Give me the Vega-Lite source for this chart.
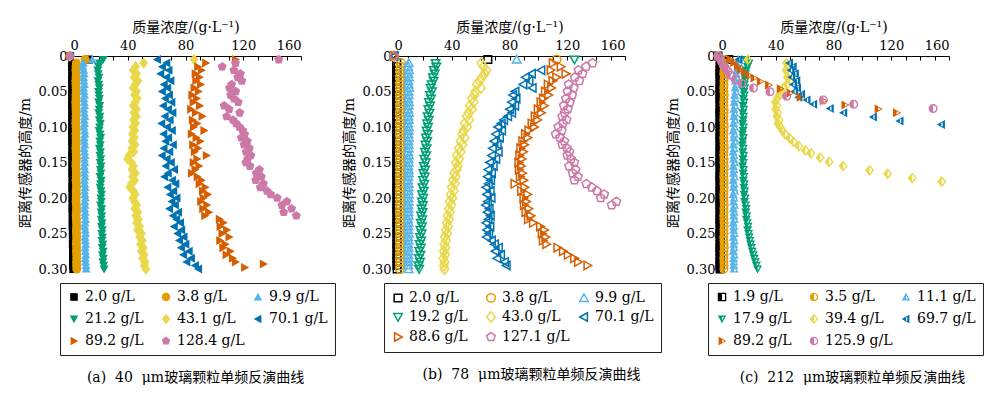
{
"$schema": "https://vega.github.io/schema/vega-lite/v6.json",
"padding": {"left": 18, "top": 20, "right": 5, "bottom": 5},
"bounds": "flush",
"spacing": 93,
"config": {
  "view": {"stroke": null},
  "axis": {"grid": false, "domainColor": "#000", "tickColor": "#000", "labelColor": "#000", "titleColor": "#000", "labelFont": "DejaVu Serif", "labelFontSize": 13, "titleFont": "DejaVu Serif, Noto Sans CJK SC", "titleFontSize": 14, "titleFontWeight": "normal", "tickSize": -4, "domainWidth": 1, "tickWidth": 1},
  "legend": {"columns": 3, "direction": "horizontal", "gridAlign": "all", "strokeColor": "#222", "padding": 7, "rowPadding": 8, "columnPadding": 6, "labelFont": "DejaVu Serif", "labelFontSize": 14, "labelColor": "#000", "symbolSize": 72, "labelOffset": 4},
  "title": {"font": "DejaVu Serif, Noto Sans CJK SC", "fontSize": 14, "fontWeight": "normal", "color": "#000"}
},
"datasets": {
"a": [
{"s":0,"y":0,"x":0},{"s":0,"y":0.005,"x":13},{"s":0,"y":0.01,"x":1.6},{"s":0,"y":0.015,"x":1.5},{"s":0,"y":0.02,"x":1.6},{"s":0,"y":0.025,"x":1.7},{"s":0,"y":0.03,"x":1.6},{"s":0,"y":0.035,"x":1.5},{"s":0,"y":0.04,"x":1.6},{"s":0,"y":0.045,"x":1.7},{"s":0,"y":0.05,"x":1.6},{"s":0,"y":0.055,"x":1.6},{"s":0,"y":0.06,"x":1.7},{"s":0,"y":0.065,"x":1.6},{"s":0,"y":0.07,"x":1.5},{"s":0,"y":0.075,"x":1.6},{"s":0,"y":0.08,"x":1.7},{"s":0,"y":0.085,"x":1.6},{"s":0,"y":0.09,"x":1.6},{"s":0,"y":0.095,"x":1.7},{"s":0,"y":0.1,"x":1.6},{"s":0,"y":0.105,"x":1.5},{"s":0,"y":0.11,"x":1.6},{"s":0,"y":0.115,"x":1.7},{"s":0,"y":0.12,"x":1.6},{"s":0,"y":0.125,"x":1.7},{"s":0,"y":0.13,"x":1.8},{"s":0,"y":0.135,"x":1.7},{"s":0,"y":0.14,"x":1.6},{"s":0,"y":0.145,"x":1.7},{"s":0,"y":0.15,"x":1.8},{"s":0,"y":0.155,"x":1.7},{"s":0,"y":0.16,"x":1.8},{"s":0,"y":0.165,"x":1.7},{"s":0,"y":0.17,"x":1.8},{"s":0,"y":0.175,"x":1.9},{"s":0,"y":0.18,"x":1.8},{"s":0,"y":0.185,"x":1.7},{"s":0,"y":0.19,"x":1.8},{"s":0,"y":0.195,"x":1.9},{"s":0,"y":0.2,"x":1.8},{"s":0,"y":0.205,"x":1.9},{"s":0,"y":0.21,"x":1.9},{"s":0,"y":0.215,"x":1.8},{"s":0,"y":0.22,"x":1.9},{"s":0,"y":0.225,"x":2.0},{"s":0,"y":0.23,"x":1.9},{"s":0,"y":0.235,"x":2.0},{"s":0,"y":0.24,"x":1.9},{"s":0,"y":0.245,"x":2.0},{"s":0,"y":0.25,"x":2.1},{"s":0,"y":0.255,"x":2.0},{"s":0,"y":0.26,"x":2.1},{"s":0,"y":0.265,"x":2.0},{"s":0,"y":0.27,"x":2.1},{"s":0,"y":0.275,"x":2.2},{"s":0,"y":0.28,"x":2.1},{"s":0,"y":0.285,"x":2.2},{"s":0,"y":0.29,"x":2.1},{"s":0,"y":0.295,"x":2.2},{"s":0,"y":0.3,"x":2.3},
{"s":1,"y":0,"x":0},{"s":1,"y":0.005,"x":10.5},{"s":1,"y":0.01,"x":4.4},{"s":1,"y":0.015,"x":4.2},{"s":1,"y":0.02,"x":4.1},{"s":1,"y":0.025,"x":4.3},{"s":1,"y":0.03,"x":4.2},{"s":1,"y":0.035,"x":4.0},{"s":1,"y":0.04,"x":4.1},{"s":1,"y":0.045,"x":4.2},{"s":1,"y":0.05,"x":4.3},{"s":1,"y":0.055,"x":4.1},{"s":1,"y":0.06,"x":4.2},{"s":1,"y":0.065,"x":4.0},{"s":1,"y":0.07,"x":4.1},{"s":1,"y":0.075,"x":4.2},{"s":1,"y":0.08,"x":4.3},{"s":1,"y":0.085,"x":4.2},{"s":1,"y":0.09,"x":4.1},{"s":1,"y":0.095,"x":4.0},{"s":1,"y":0.1,"x":4.2},{"s":1,"y":0.105,"x":4.3},{"s":1,"y":0.11,"x":4.1},{"s":1,"y":0.115,"x":4.2},{"s":1,"y":0.12,"x":4.3},{"s":1,"y":0.125,"x":4.2},{"s":1,"y":0.13,"x":4.1},{"s":1,"y":0.135,"x":4.2},{"s":1,"y":0.14,"x":4.3},{"s":1,"y":0.145,"x":4.4},{"s":1,"y":0.15,"x":4.2},{"s":1,"y":0.155,"x":4.1},{"s":1,"y":0.16,"x":4.3},{"s":1,"y":0.165,"x":4.4},{"s":1,"y":0.17,"x":4.3},{"s":1,"y":0.175,"x":4.2},{"s":1,"y":0.18,"x":4.4},{"s":1,"y":0.185,"x":4.5},{"s":1,"y":0.19,"x":4.3},{"s":1,"y":0.195,"x":4.4},{"s":1,"y":0.2,"x":4.3},{"s":1,"y":0.205,"x":4.2},{"s":1,"y":0.21,"x":4.4},{"s":1,"y":0.215,"x":4.5},{"s":1,"y":0.22,"x":4.4},{"s":1,"y":0.225,"x":4.3},{"s":1,"y":0.23,"x":4.4},{"s":1,"y":0.235,"x":4.5},{"s":1,"y":0.24,"x":4.6},{"s":1,"y":0.245,"x":4.4},{"s":1,"y":0.25,"x":4.5},{"s":1,"y":0.255,"x":4.6},{"s":1,"y":0.26,"x":4.5},{"s":1,"y":0.265,"x":4.4},{"s":1,"y":0.27,"x":4.6},{"s":1,"y":0.275,"x":4.5},{"s":1,"y":0.28,"x":4.6},{"s":1,"y":0.285,"x":4.7},{"s":1,"y":0.29,"x":4.5},{"s":1,"y":0.295,"x":4.6},{"s":1,"y":0.3,"x":4.7},
{"s":2,"y":0,"x":0},{"s":2,"y":0.005,"x":15.5},{"s":2,"y":0.01,"x":9.2},{"s":2,"y":0.015,"x":9.0},{"s":2,"y":0.02,"x":9.5},{"s":2,"y":0.025,"x":9.8},{"s":2,"y":0.03,"x":9.4},{"s":2,"y":0.035,"x":9.6},{"s":2,"y":0.04,"x":9.9},{"s":2,"y":0.045,"x":9.5},{"s":2,"y":0.05,"x":9.7},{"s":2,"y":0.055,"x":10.0},{"s":2,"y":0.06,"x":9.6},{"s":2,"y":0.065,"x":9.8},{"s":2,"y":0.07,"x":10.1},{"s":2,"y":0.075,"x":9.7},{"s":2,"y":0.08,"x":9.9},{"s":2,"y":0.085,"x":10.2},{"s":2,"y":0.09,"x":9.8},{"s":2,"y":0.095,"x":10.0},{"s":2,"y":0.1,"x":9.7},{"s":2,"y":0.105,"x":10.1},{"s":2,"y":0.11,"x":10.3},{"s":2,"y":0.115,"x":9.9},{"s":2,"y":0.12,"x":10.0},{"s":2,"y":0.125,"x":10.2},{"s":2,"y":0.13,"x":9.8},{"s":2,"y":0.135,"x":10.1},{"s":2,"y":0.14,"x":10.4},{"s":2,"y":0.145,"x":10.0},{"s":2,"y":0.15,"x":10.2},{"s":2,"y":0.155,"x":9.9},{"s":2,"y":0.16,"x":10.3},{"s":2,"y":0.165,"x":10.1},{"s":2,"y":0.17,"x":10.4},{"s":2,"y":0.175,"x":10.0},{"s":2,"y":0.18,"x":10.2},{"s":2,"y":0.185,"x":10.5},{"s":2,"y":0.19,"x":10.1},{"s":2,"y":0.195,"x":10.3},{"s":2,"y":0.2,"x":10.6},{"s":2,"y":0.205,"x":10.2},{"s":2,"y":0.21,"x":10.4},{"s":2,"y":0.215,"x":10.1},{"s":2,"y":0.22,"x":10.5},{"s":2,"y":0.225,"x":10.3},{"s":2,"y":0.23,"x":10.7},{"s":2,"y":0.235,"x":10.4},{"s":2,"y":0.24,"x":10.2},{"s":2,"y":0.245,"x":10.6},{"s":2,"y":0.25,"x":10.8},{"s":2,"y":0.255,"x":10.4},{"s":2,"y":0.26,"x":10.6},{"s":2,"y":0.265,"x":10.9},{"s":2,"y":0.27,"x":10.5},{"s":2,"y":0.275,"x":10.7},{"s":2,"y":0.28,"x":11.0},{"s":2,"y":0.285,"x":10.6},{"s":2,"y":0.29,"x":10.8},{"s":2,"y":0.295,"x":11.1},{"s":2,"y":0.3,"x":11.2},
{"s":3,"y":0,"x":0},{"s":3,"y":0.005,"x":23.0},{"s":3,"y":0.01,"x":20.5},{"s":3,"y":0.015,"x":19.8},{"s":3,"y":0.02,"x":19.2},{"s":3,"y":0.025,"x":19.6},{"s":3,"y":0.03,"x":20.1},{"s":3,"y":0.035,"x":19.4},{"s":3,"y":0.04,"x":19.9},{"s":3,"y":0.045,"x":20.3},{"s":3,"y":0.05,"x":19.7},{"s":3,"y":0.055,"x":20.0},{"s":3,"y":0.06,"x":20.4},{"s":3,"y":0.065,"x":19.8},{"s":3,"y":0.07,"x":20.6},{"s":3,"y":0.075,"x":20.2},{"s":3,"y":0.08,"x":19.9},{"s":3,"y":0.085,"x":20.7},{"s":3,"y":0.09,"x":20.3},{"s":3,"y":0.095,"x":21.0},{"s":3,"y":0.1,"x":20.5},{"s":3,"y":0.105,"x":20.1},{"s":3,"y":0.11,"x":20.8},{"s":3,"y":0.115,"x":21.2},{"s":3,"y":0.12,"x":20.6},{"s":3,"y":0.125,"x":21.0},{"s":3,"y":0.13,"x":20.4},{"s":3,"y":0.135,"x":21.1},{"s":3,"y":0.14,"x":20.7},{"s":3,"y":0.145,"x":21.3},{"s":3,"y":0.15,"x":20.9},{"s":3,"y":0.155,"x":21.5},{"s":3,"y":0.16,"x":21.0},{"s":3,"y":0.165,"x":21.4},{"s":3,"y":0.17,"x":20.8},{"s":3,"y":0.175,"x":21.6},{"s":3,"y":0.18,"x":21.2},{"s":3,"y":0.185,"x":20.9},{"s":3,"y":0.19,"x":21.5},{"s":3,"y":0.195,"x":21.8},{"s":3,"y":0.2,"x":21.3},{"s":3,"y":0.205,"x":21.7},{"s":3,"y":0.21,"x":21.1},{"s":3,"y":0.215,"x":21.9},{"s":3,"y":0.22,"x":21.5},{"s":3,"y":0.225,"x":22.0},{"s":3,"y":0.23,"x":21.6},{"s":3,"y":0.235,"x":22.2},{"s":3,"y":0.24,"x":21.8},{"s":3,"y":0.245,"x":22.4},{"s":3,"y":0.25,"x":22.0},{"s":3,"y":0.255,"x":22.5},{"s":3,"y":0.26,"x":22.1},{"s":3,"y":0.265,"x":22.7},{"s":3,"y":0.27,"x":22.3},{"s":3,"y":0.275,"x":22.9},{"s":3,"y":0.28,"x":22.5},{"s":3,"y":0.285,"x":23.1},{"s":3,"y":0.29,"x":22.8},{"s":3,"y":0.295,"x":23.3},{"s":3,"y":0.3,"x":23.6},
{"s":4,"y":0,"x":0},{"s":4,"y":0.005,"x":86.0},{"s":4,"y":0.01,"x":51.0},{"s":4,"y":0.015,"x":45.5},{"s":4,"y":0.02,"x":43.8},{"s":4,"y":0.025,"x":46.2},{"s":4,"y":0.03,"x":44.5},{"s":4,"y":0.035,"x":47.0},{"s":4,"y":0.04,"x":45.1},{"s":4,"y":0.045,"x":43.9},{"s":4,"y":0.05,"x":46.0},{"s":4,"y":0.055,"x":44.7},{"s":4,"y":0.06,"x":46.5},{"s":4,"y":0.065,"x":45.2},{"s":4,"y":0.07,"x":43.8},{"s":4,"y":0.075,"x":45.9},{"s":4,"y":0.08,"x":44.3},{"s":4,"y":0.085,"x":46.1},{"s":4,"y":0.09,"x":44.0},{"s":4,"y":0.095,"x":45.4},{"s":4,"y":0.1,"x":43.6},{"s":4,"y":0.105,"x":44.9},{"s":4,"y":0.11,"x":43.2},{"s":4,"y":0.115,"x":44.6},{"s":4,"y":0.12,"x":43.1},{"s":4,"y":0.125,"x":45.0},{"s":4,"y":0.13,"x":42.8},{"s":4,"y":0.135,"x":44.2},{"s":4,"y":0.14,"x":41.0},{"s":4,"y":0.145,"x":39.8},{"s":4,"y":0.15,"x":42.5},{"s":4,"y":0.155,"x":44.0},{"s":4,"y":0.16,"x":42.9},{"s":4,"y":0.165,"x":45.3},{"s":4,"y":0.17,"x":43.4},{"s":4,"y":0.175,"x":44.8},{"s":4,"y":0.18,"x":42.6},{"s":4,"y":0.185,"x":41.5},{"s":4,"y":0.19,"x":43.9},{"s":4,"y":0.195,"x":45.1},{"s":4,"y":0.2,"x":43.5},{"s":4,"y":0.205,"x":44.7},{"s":4,"y":0.21,"x":46.2},{"s":4,"y":0.215,"x":44.9},{"s":4,"y":0.22,"x":47.0},{"s":4,"y":0.225,"x":45.6},{"s":4,"y":0.23,"x":47.4},{"s":4,"y":0.235,"x":46.1},{"s":4,"y":0.24,"x":48.2},{"s":4,"y":0.245,"x":46.8},{"s":4,"y":0.25,"x":49.5},{"s":4,"y":0.255,"x":48.3},{"s":4,"y":0.26,"x":50.1},{"s":4,"y":0.265,"x":48.8},{"s":4,"y":0.27,"x":50.7},{"s":4,"y":0.275,"x":49.4},{"s":4,"y":0.28,"x":51.3},{"s":4,"y":0.285,"x":50.2},{"s":4,"y":0.29,"x":52.0},{"s":4,"y":0.295,"x":51.4},{"s":4,"y":0.3,"x":52.6},
{"s":5,"y":0,"x":0},{"s":5,"y":0.005,"x":60.5},{"s":5,"y":0.01,"x":67.0},{"s":5,"y":0.015,"x":64.0},{"s":5,"y":0.02,"x":68.5},{"s":5,"y":0.025,"x":62.8},{"s":5,"y":0.03,"x":66.9},{"s":5,"y":0.035,"x":69.8},{"s":5,"y":0.04,"x":65.2},{"s":5,"y":0.045,"x":67.6},{"s":5,"y":0.05,"x":63.9},{"s":5,"y":0.055,"x":68.8},{"s":5,"y":0.06,"x":66.0},{"s":5,"y":0.065,"x":70.5},{"s":5,"y":0.07,"x":64.6},{"s":5,"y":0.075,"x":68.1},{"s":5,"y":0.08,"x":71.2},{"s":5,"y":0.085,"x":65.8},{"s":5,"y":0.09,"x":69.3},{"s":5,"y":0.095,"x":63.5},{"s":5,"y":0.1,"x":67.4},{"s":5,"y":0.105,"x":70.8},{"s":5,"y":0.11,"x":64.9},{"s":5,"y":0.115,"x":68.2},{"s":5,"y":0.12,"x":66.3},{"s":5,"y":0.125,"x":71.5},{"s":5,"y":0.13,"x":65.1},{"s":5,"y":0.135,"x":69.0},{"s":5,"y":0.14,"x":63.8},{"s":5,"y":0.145,"x":67.2},{"s":5,"y":0.15,"x":70.1},{"s":5,"y":0.155,"x":66.4},{"s":5,"y":0.16,"x":72.3},{"s":5,"y":0.165,"x":68.0},{"s":5,"y":0.17,"x":65.5},{"s":5,"y":0.175,"x":70.9},{"s":5,"y":0.18,"x":73.2},{"s":5,"y":0.185,"x":67.7},{"s":5,"y":0.19,"x":71.8},{"s":5,"y":0.195,"x":69.4},{"s":5,"y":0.2,"x":74.0},{"s":5,"y":0.205,"x":70.6},{"s":5,"y":0.21,"x":72.9},{"s":5,"y":0.215,"x":68.9},{"s":5,"y":0.22,"x":75.1},{"s":5,"y":0.225,"x":71.4},{"s":5,"y":0.23,"x":73.8},{"s":5,"y":0.235,"x":76.5},{"s":5,"y":0.24,"x":72.2},{"s":5,"y":0.245,"x":77.3},{"s":5,"y":0.25,"x":74.6},{"s":5,"y":0.255,"x":78.9},{"s":5,"y":0.26,"x":75.8},{"s":5,"y":0.265,"x":80.2},{"s":5,"y":0.27,"x":77.1},{"s":5,"y":0.275,"x":82.5},{"s":5,"y":0.28,"x":78.6},{"s":5,"y":0.285,"x":84.0},{"s":5,"y":0.29,"x":80.9},{"s":5,"y":0.295,"x":86.8},{"s":5,"y":0.3,"x":89.0},
{"s":6,"y":0,"x":0},{"s":6,"y":0.005,"x":114.6},{"s":6,"y":0.01,"x":94.0},{"s":6,"y":0.015,"x":88.5},{"s":6,"y":0.02,"x":91.0},{"s":6,"y":0.025,"x":86.8},{"s":6,"y":0.03,"x":89.6},{"s":6,"y":0.035,"x":87.2},{"s":6,"y":0.04,"x":90.4},{"s":6,"y":0.045,"x":86.0},{"s":6,"y":0.05,"x":88.9},{"s":6,"y":0.055,"x":84.5},{"s":6,"y":0.06,"x":87.7},{"s":6,"y":0.065,"x":85.3},{"s":6,"y":0.07,"x":89.8},{"s":6,"y":0.075,"x":83.6},{"s":6,"y":0.08,"x":86.9},{"s":6,"y":0.085,"x":91.5},{"s":6,"y":0.09,"x":84.8},{"s":6,"y":0.095,"x":88.0},{"s":6,"y":0.1,"x":85.6},{"s":6,"y":0.105,"x":92.8},{"s":6,"y":0.11,"x":84.1},{"s":6,"y":0.115,"x":87.4},{"s":6,"y":0.12,"x":90.1},{"s":6,"y":0.125,"x":85.0},{"s":6,"y":0.13,"x":88.6},{"s":6,"y":0.135,"x":86.2},{"s":6,"y":0.14,"x":94.5},{"s":6,"y":0.145,"x":87.9},{"s":6,"y":0.15,"x":85.4},{"s":6,"y":0.155,"x":89.3},{"s":6,"y":0.16,"x":86.6},{"s":6,"y":0.165,"x":84.2},{"s":6,"y":0.17,"x":88.1},{"s":6,"y":0.175,"x":91.0},{"s":6,"y":0.18,"x":89.5},{"s":6,"y":0.185,"x":93.6},{"s":6,"y":0.19,"x":91.8},{"s":6,"y":0.195,"x":95.4},{"s":6,"y":0.2,"x":92.3},{"s":6,"y":0.205,"x":90.6},{"s":6,"y":0.21,"x":94.8},{"s":6,"y":0.215,"x":92.0},{"s":6,"y":0.22,"x":96.1},{"s":6,"y":0.225,"x":93.4},{"s":6,"y":0.23,"x":103.5},{"s":6,"y":0.235,"x":106.2},{"s":6,"y":0.24,"x":104.0},{"s":6,"y":0.245,"x":108.5},{"s":6,"y":0.25,"x":105.3},{"s":6,"y":0.255,"x":110.2},{"s":6,"y":0.26,"x":103.8},{"s":6,"y":0.265,"x":107.4},{"s":6,"y":0.27,"x":105.9},{"s":6,"y":0.275,"x":111.0},{"s":6,"y":0.28,"x":108.2},{"s":6,"y":0.285,"x":112.6},{"s":6,"y":0.29,"x":114.6},{"s":6,"y":0.293,"x":134.0},{"s":6,"y":0.298,"x":121.0},
{"s":7,"y":0,"x":0},{"s":7,"y":0.005,"x":144.6},{"s":7,"y":0.01,"x":114.6},{"s":7,"y":0.015,"x":105.4},{"s":7,"y":0.02,"x":113.5},{"s":7,"y":0.025,"x":118.0},{"s":7,"y":0.03,"x":116.2},{"s":7,"y":0.035,"x":119.0},{"s":7,"y":0.04,"x":112.0},{"s":7,"y":0.045,"x":110.5},{"s":7,"y":0.05,"x":114.8},{"s":7,"y":0.055,"x":111.3},{"s":7,"y":0.06,"x":113.6},{"s":7,"y":0.065,"x":116.5},{"s":7,"y":0.07,"x":106.8},{"s":7,"y":0.075,"x":110.2},{"s":7,"y":0.08,"x":117.5},{"s":7,"y":0.085,"x":108.5},{"s":7,"y":0.09,"x":112.9},{"s":7,"y":0.095,"x":115.1},{"s":7,"y":0.1,"x":117.4},{"s":7,"y":0.105,"x":119.6},{"s":7,"y":0.11,"x":121.0},{"s":7,"y":0.115,"x":118.7},{"s":7,"y":0.12,"x":122.8},{"s":7,"y":0.125,"x":120.5},{"s":7,"y":0.13,"x":124.2},{"s":7,"y":0.135,"x":122.0},{"s":7,"y":0.14,"x":125.3},{"s":7,"y":0.145,"x":123.1},{"s":7,"y":0.15,"x":121.8},{"s":7,"y":0.155,"x":124.6},{"s":7,"y":0.16,"x":131.2},{"s":7,"y":0.165,"x":129.0},{"s":7,"y":0.17,"x":132.5},{"s":7,"y":0.175,"x":128.6},{"s":7,"y":0.18,"x":134.0},{"s":7,"y":0.185,"x":131.8},{"s":7,"y":0.19,"x":136.4},{"s":7,"y":0.195,"x":139.0},{"s":7,"y":0.2,"x":143.5},{"s":7,"y":0.205,"x":150.2},{"s":7,"y":0.21,"x":146.8},{"s":7,"y":0.215,"x":153.5},{"s":7,"y":0.22,"x":148.0},{"s":7,"y":0.225,"x":156.8}
],
"b": [
{"s":0,"y":0,"x":0},{"s":0,"y":0.005,"x":65.0},{"s":0,"y":0.01,"x":1.9},{"s":0,"y":0.015,"x":1.8},{"s":0,"y":0.02,"x":2.0},{"s":0,"y":0.025,"x":1.9},{"s":0,"y":0.03,"x":1.8},{"s":0,"y":0.035,"x":2.0},{"s":0,"y":0.04,"x":1.9},{"s":0,"y":0.045,"x":2.1},{"s":0,"y":0.05,"x":1.9},{"s":0,"y":0.055,"x":1.8},{"s":0,"y":0.06,"x":2.0},{"s":0,"y":0.065,"x":1.9},{"s":0,"y":0.07,"x":2.1},{"s":0,"y":0.075,"x":2.0},{"s":0,"y":0.08,"x":1.8},{"s":0,"y":0.085,"x":1.9},{"s":0,"y":0.09,"x":2.0},{"s":0,"y":0.095,"x":2.1},{"s":0,"y":0.1,"x":1.9},{"s":0,"y":0.105,"x":2.0},{"s":0,"y":0.11,"x":1.8},{"s":0,"y":0.115,"x":2.0},{"s":0,"y":0.12,"x":2.1},{"s":0,"y":0.125,"x":1.9},{"s":0,"y":0.13,"x":2.0},{"s":0,"y":0.135,"x":1.9},{"s":0,"y":0.14,"x":2.1},{"s":0,"y":0.145,"x":2.0},{"s":0,"y":0.15,"x":1.9},{"s":0,"y":0.155,"x":2.0},{"s":0,"y":0.16,"x":2.1},{"s":0,"y":0.165,"x":1.9},{"s":0,"y":0.17,"x":2.0},{"s":0,"y":0.175,"x":2.1},{"s":0,"y":0.18,"x":2.0},{"s":0,"y":0.185,"x":1.9},{"s":0,"y":0.19,"x":2.1},{"s":0,"y":0.195,"x":2.0},{"s":0,"y":0.2,"x":2.2},{"s":0,"y":0.205,"x":2.0},{"s":0,"y":0.21,"x":2.1},{"s":0,"y":0.215,"x":1.9},{"s":0,"y":0.22,"x":2.0},{"s":0,"y":0.225,"x":2.2},{"s":0,"y":0.23,"x":2.1},{"s":0,"y":0.235,"x":2.0},{"s":0,"y":0.24,"x":2.1},{"s":0,"y":0.245,"x":2.2},{"s":0,"y":0.25,"x":2.0},{"s":0,"y":0.255,"x":2.1},{"s":0,"y":0.26,"x":2.2},{"s":0,"y":0.265,"x":2.0},{"s":0,"y":0.27,"x":2.1},{"s":0,"y":0.275,"x":2.2},{"s":0,"y":0.28,"x":2.1},{"s":0,"y":0.285,"x":2.0},{"s":0,"y":0.29,"x":2.2},{"s":0,"y":0.295,"x":2.1},{"s":0,"y":0.3,"x":2.2},
{"s":1,"y":0,"x":0},{"s":1,"y":0.005,"x":112.6},{"s":1,"y":0.01,"x":4.8},{"s":1,"y":0.015,"x":4.5},{"s":1,"y":0.02,"x":4.3},{"s":1,"y":0.025,"x":4.4},{"s":1,"y":0.03,"x":4.2},{"s":1,"y":0.035,"x":4.5},{"s":1,"y":0.04,"x":4.3},{"s":1,"y":0.045,"x":4.1},{"s":1,"y":0.05,"x":4.4},{"s":1,"y":0.055,"x":4.2},{"s":1,"y":0.06,"x":4.3},{"s":1,"y":0.065,"x":4.5},{"s":1,"y":0.07,"x":4.2},{"s":1,"y":0.075,"x":4.4},{"s":1,"y":0.08,"x":4.1},{"s":1,"y":0.085,"x":4.3},{"s":1,"y":0.09,"x":4.5},{"s":1,"y":0.095,"x":4.2},{"s":1,"y":0.1,"x":4.4},{"s":1,"y":0.105,"x":4.3},{"s":1,"y":0.11,"x":4.1},{"s":1,"y":0.115,"x":4.4},{"s":1,"y":0.12,"x":4.2},{"s":1,"y":0.125,"x":4.3},{"s":1,"y":0.13,"x":4.5},{"s":1,"y":0.135,"x":4.2},{"s":1,"y":0.14,"x":4.4},{"s":1,"y":0.145,"x":4.1},{"s":1,"y":0.15,"x":4.3},{"s":1,"y":0.155,"x":4.2},{"s":1,"y":0.16,"x":4.4},{"s":1,"y":0.165,"x":4.3},{"s":1,"y":0.17,"x":4.1},{"s":1,"y":0.175,"x":4.2},{"s":1,"y":0.18,"x":4.4},{"s":1,"y":0.185,"x":4.3},{"s":1,"y":0.19,"x":4.2},{"s":1,"y":0.195,"x":4.1},{"s":1,"y":0.2,"x":4.3},{"s":1,"y":0.205,"x":4.4},{"s":1,"y":0.21,"x":4.2},{"s":1,"y":0.215,"x":4.3},{"s":1,"y":0.22,"x":4.1},{"s":1,"y":0.225,"x":4.2},{"s":1,"y":0.23,"x":4.4},{"s":1,"y":0.235,"x":4.3},{"s":1,"y":0.24,"x":4.2},{"s":1,"y":0.245,"x":4.1},{"s":1,"y":0.25,"x":4.3},{"s":1,"y":0.255,"x":4.2},{"s":1,"y":0.26,"x":4.1},{"s":1,"y":0.265,"x":4.3},{"s":1,"y":0.27,"x":4.2},{"s":1,"y":0.275,"x":4.4},{"s":1,"y":0.28,"x":4.2},{"s":1,"y":0.285,"x":4.1},{"s":1,"y":0.29,"x":4.3},{"s":1,"y":0.295,"x":4.2},{"s":1,"y":0.3,"x":4.1},
{"s":2,"y":0,"x":0},{"s":2,"y":0.005,"x":85.0},{"s":2,"y":0.01,"x":10.2},{"s":2,"y":0.015,"x":9.8},{"s":2,"y":0.02,"x":10.4},{"s":2,"y":0.025,"x":10.0},{"s":2,"y":0.03,"x":10.3},{"s":2,"y":0.035,"x":9.9},{"s":2,"y":0.04,"x":10.1},{"s":2,"y":0.045,"x":10.5},{"s":2,"y":0.05,"x":10.0},{"s":2,"y":0.055,"x":10.2},{"s":2,"y":0.06,"x":9.8},{"s":2,"y":0.065,"x":10.3},{"s":2,"y":0.07,"x":10.1},{"s":2,"y":0.075,"x":9.9},{"s":2,"y":0.08,"x":10.4},{"s":2,"y":0.085,"x":10.0},{"s":2,"y":0.09,"x":10.2},{"s":2,"y":0.095,"x":9.8},{"s":2,"y":0.1,"x":10.3},{"s":2,"y":0.105,"x":10.1},{"s":2,"y":0.11,"x":10.0},{"s":2,"y":0.115,"x":10.4},{"s":2,"y":0.12,"x":9.9},{"s":2,"y":0.125,"x":10.2},{"s":2,"y":0.13,"x":10.1},{"s":2,"y":0.135,"x":9.8},{"s":2,"y":0.14,"x":10.3},{"s":2,"y":0.145,"x":10.0},{"s":2,"y":0.15,"x":10.2},{"s":2,"y":0.155,"x":9.9},{"s":2,"y":0.16,"x":10.1},{"s":2,"y":0.165,"x":10.3},{"s":2,"y":0.17,"x":10.0},{"s":2,"y":0.175,"x":9.8},{"s":2,"y":0.18,"x":10.2},{"s":2,"y":0.185,"x":10.1},{"s":2,"y":0.19,"x":9.9},{"s":2,"y":0.195,"x":10.3},{"s":2,"y":0.2,"x":10.0},{"s":2,"y":0.205,"x":10.2},{"s":2,"y":0.21,"x":9.9},{"s":2,"y":0.215,"x":10.1},{"s":2,"y":0.22,"x":10.0},{"s":2,"y":0.225,"x":10.2},{"s":2,"y":0.23,"x":9.8},{"s":2,"y":0.235,"x":10.1},{"s":2,"y":0.24,"x":9.9},{"s":2,"y":0.245,"x":10.0},{"s":2,"y":0.25,"x":10.2},{"s":2,"y":0.255,"x":9.9},{"s":2,"y":0.26,"x":10.1},{"s":2,"y":0.265,"x":9.8},{"s":2,"y":0.27,"x":10.0},{"s":2,"y":0.275,"x":10.2},{"s":2,"y":0.28,"x":9.9},{"s":2,"y":0.285,"x":10.1},{"s":2,"y":0.29,"x":10.0},{"s":2,"y":0.295,"x":9.9},{"s":2,"y":0.3,"x":10.1},
{"s":3,"y":0,"x":0},{"s":3,"y":0.005,"x":125.0},{"s":3,"y":0.01,"x":28.8},{"s":3,"y":0.015,"x":29.3},{"s":3,"y":0.02,"x":27.6},{"s":3,"y":0.025,"x":28.2},{"s":3,"y":0.03,"x":26.9},{"s":3,"y":0.035,"x":27.5},{"s":3,"y":0.04,"x":26.1},{"s":3,"y":0.045,"x":25.4},{"s":3,"y":0.05,"x":26.3},{"s":3,"y":0.055,"x":24.9},{"s":3,"y":0.06,"x":25.6},{"s":3,"y":0.065,"x":24.2},{"s":3,"y":0.07,"x":25.0},{"s":3,"y":0.075,"x":23.8},{"s":3,"y":0.08,"x":24.6},{"s":3,"y":0.085,"x":23.3},{"s":3,"y":0.09,"x":24.1},{"s":3,"y":0.095,"x":22.9},{"s":3,"y":0.1,"x":23.6},{"s":3,"y":0.105,"x":22.5},{"s":3,"y":0.11,"x":23.4},{"s":3,"y":0.115,"x":22.1},{"s":3,"y":0.12,"x":23.0},{"s":3,"y":0.125,"x":21.8},{"s":3,"y":0.13,"x":22.6},{"s":3,"y":0.135,"x":21.4},{"s":3,"y":0.14,"x":22.3},{"s":3,"y":0.145,"x":21.0},{"s":3,"y":0.15,"x":22.0},{"s":3,"y":0.155,"x":20.7},{"s":3,"y":0.16,"x":21.5},{"s":3,"y":0.165,"x":20.4},{"s":3,"y":0.17,"x":21.3},{"s":3,"y":0.175,"x":20.1},{"s":3,"y":0.18,"x":21.0},{"s":3,"y":0.185,"x":19.8},{"s":3,"y":0.19,"x":20.6},{"s":3,"y":0.195,"x":19.5},{"s":3,"y":0.2,"x":20.3},{"s":3,"y":0.205,"x":19.3},{"s":3,"y":0.21,"x":20.0},{"s":3,"y":0.215,"x":19.1},{"s":3,"y":0.22,"x":19.8},{"s":3,"y":0.225,"x":18.8},{"s":3,"y":0.23,"x":19.6},{"s":3,"y":0.235,"x":18.6},{"s":3,"y":0.24,"x":19.4},{"s":3,"y":0.245,"x":18.3},{"s":3,"y":0.25,"x":19.1},{"s":3,"y":0.255,"x":18.0},{"s":3,"y":0.26,"x":18.8},{"s":3,"y":0.265,"x":17.8},{"s":3,"y":0.27,"x":18.6},{"s":3,"y":0.275,"x":17.5},{"s":3,"y":0.28,"x":18.3},{"s":3,"y":0.285,"x":17.3},{"s":3,"y":0.29,"x":18.0},{"s":3,"y":0.295,"x":17.1},{"s":3,"y":0.3,"x":17.4},
{"s":4,"y":0,"x":0},{"s":4,"y":0.01,"x":60.5},{"s":4,"y":0.015,"x":62.0},{"s":4,"y":0.02,"x":64.0},{"s":4,"y":0.025,"x":62.8},{"s":4,"y":0.03,"x":61.0},{"s":4,"y":0.035,"x":59.3},{"s":4,"y":0.04,"x":57.5},{"s":4,"y":0.045,"x":60.2},{"s":4,"y":0.05,"x":56.4},{"s":4,"y":0.055,"x":55.8},{"s":4,"y":0.06,"x":53.9},{"s":4,"y":0.065,"x":55.2},{"s":4,"y":0.07,"x":52.5},{"s":4,"y":0.075,"x":54.0},{"s":4,"y":0.08,"x":51.6},{"s":4,"y":0.085,"x":50.3},{"s":4,"y":0.09,"x":52.1},{"s":4,"y":0.095,"x":49.0},{"s":4,"y":0.1,"x":50.6},{"s":4,"y":0.105,"x":48.1},{"s":4,"y":0.11,"x":47.2},{"s":4,"y":0.115,"x":48.9},{"s":4,"y":0.12,"x":46.0},{"s":4,"y":0.125,"x":47.5},{"s":4,"y":0.13,"x":44.8},{"s":4,"y":0.135,"x":46.3},{"s":4,"y":0.14,"x":43.5},{"s":4,"y":0.145,"x":45.1},{"s":4,"y":0.15,"x":42.9},{"s":4,"y":0.155,"x":44.2},{"s":4,"y":0.16,"x":43.6},{"s":4,"y":0.165,"x":41.8},{"s":4,"y":0.17,"x":42.7},{"s":4,"y":0.175,"x":40.9},{"s":4,"y":0.18,"x":42.2},{"s":4,"y":0.185,"x":40.0},{"s":4,"y":0.19,"x":41.4},{"s":4,"y":0.195,"x":39.2},{"s":4,"y":0.2,"x":40.5},{"s":4,"y":0.205,"x":38.6},{"s":4,"y":0.21,"x":39.8},{"s":4,"y":0.215,"x":37.9},{"s":4,"y":0.22,"x":38.8},{"s":4,"y":0.225,"x":37.1},{"s":4,"y":0.23,"x":38.2},{"s":4,"y":0.235,"x":36.5},{"s":4,"y":0.24,"x":37.4},{"s":4,"y":0.245,"x":35.8},{"s":4,"y":0.25,"x":36.9},{"s":4,"y":0.255,"x":35.2},{"s":4,"y":0.26,"x":36.1},{"s":4,"y":0.265,"x":34.8},{"s":4,"y":0.27,"x":35.7},{"s":4,"y":0.275,"x":34.5},{"s":4,"y":0.28,"x":35.4},{"s":4,"y":0.285,"x":34.2},{"s":4,"y":0.29,"x":35.0},{"s":4,"y":0.295,"x":34.6},{"s":4,"y":0.3,"x":34.9},
{"s":5,"y":0,"x":0},{"s":5,"y":0.02,"x":102.0},{"s":5,"y":0.025,"x":95.5},{"s":5,"y":0.03,"x":91.2},{"s":5,"y":0.035,"x":93.8},{"s":5,"y":0.04,"x":89.6},{"s":5,"y":0.045,"x":96.0},{"s":5,"y":0.05,"x":84.1},{"s":5,"y":0.055,"x":82.5},{"s":5,"y":0.06,"x":84.8},{"s":5,"y":0.065,"x":81.7},{"s":5,"y":0.07,"x":83.9},{"s":5,"y":0.075,"x":80.4},{"s":5,"y":0.08,"x":81.8},{"s":5,"y":0.085,"x":79.0},{"s":5,"y":0.09,"x":76.2},{"s":5,"y":0.095,"x":74.5},{"s":5,"y":0.1,"x":72.1},{"s":5,"y":0.105,"x":74.8},{"s":5,"y":0.11,"x":70.6},{"s":5,"y":0.115,"x":73.3},{"s":5,"y":0.12,"x":69.5},{"s":5,"y":0.125,"x":71.8},{"s":5,"y":0.13,"x":68.4},{"s":5,"y":0.135,"x":72.5},{"s":5,"y":0.14,"x":67.9},{"s":5,"y":0.145,"x":70.8},{"s":5,"y":0.15,"x":66.5},{"s":5,"y":0.155,"x":69.0},{"s":5,"y":0.16,"x":65.3},{"s":5,"y":0.165,"x":67.8},{"s":5,"y":0.17,"x":64.9},{"s":5,"y":0.175,"x":67.2},{"s":5,"y":0.18,"x":65.6},{"s":5,"y":0.185,"x":63.8},{"s":5,"y":0.19,"x":66.9},{"s":5,"y":0.195,"x":64.4},{"s":5,"y":0.2,"x":67.5},{"s":5,"y":0.205,"x":65.0},{"s":5,"y":0.21,"x":63.6},{"s":5,"y":0.215,"x":66.2},{"s":5,"y":0.22,"x":64.8},{"s":5,"y":0.225,"x":67.0},{"s":5,"y":0.23,"x":65.4},{"s":5,"y":0.235,"x":63.9},{"s":5,"y":0.24,"x":66.7},{"s":5,"y":0.245,"x":64.5},{"s":5,"y":0.25,"x":65.9},{"s":5,"y":0.255,"x":64.2},{"s":5,"y":0.26,"x":67.8},{"s":5,"y":0.265,"x":69.9},{"s":5,"y":0.27,"x":72.6},{"s":5,"y":0.275,"x":70.3},{"s":5,"y":0.28,"x":74.1},{"s":5,"y":0.285,"x":71.5},{"s":5,"y":0.29,"x":76.8},{"s":5,"y":0.295,"x":78.0},
{"s":6,"y":0,"x":0},{"s":6,"y":0.01,"x":110.0},{"s":6,"y":0.015,"x":115.5},{"s":6,"y":0.02,"x":108.5},{"s":6,"y":0.025,"x":118.8},{"s":6,"y":0.03,"x":112.4},{"s":6,"y":0.035,"x":109.8},{"s":6,"y":0.04,"x":106.5},{"s":6,"y":0.045,"x":108.9},{"s":6,"y":0.05,"x":104.6},{"s":6,"y":0.055,"x":106.8},{"s":6,"y":0.06,"x":103.2},{"s":6,"y":0.065,"x":101.5},{"s":6,"y":0.07,"x":103.9},{"s":6,"y":0.075,"x":99.6},{"s":6,"y":0.08,"x":101.8},{"s":6,"y":0.085,"x":97.5},{"s":6,"y":0.09,"x":99.2},{"s":6,"y":0.095,"x":95.3},{"s":6,"y":0.1,"x":97.0},{"s":6,"y":0.105,"x":93.1},{"s":6,"y":0.11,"x":90.8},{"s":6,"y":0.115,"x":92.5},{"s":6,"y":0.12,"x":88.9},{"s":6,"y":0.125,"x":90.2},{"s":6,"y":0.13,"x":87.5},{"s":6,"y":0.135,"x":89.4},{"s":6,"y":0.14,"x":86.8},{"s":6,"y":0.145,"x":88.5},{"s":6,"y":0.15,"x":86.2},{"s":6,"y":0.155,"x":87.9},{"s":6,"y":0.16,"x":86.5},{"s":6,"y":0.165,"x":88.8},{"s":6,"y":0.17,"x":87.2},{"s":6,"y":0.175,"x":89.6},{"s":6,"y":0.18,"x":83.5},{"s":6,"y":0.185,"x":90.3},{"s":6,"y":0.19,"x":88.1},{"s":6,"y":0.195,"x":92.4},{"s":6,"y":0.2,"x":89.7},{"s":6,"y":0.205,"x":91.5},{"s":6,"y":0.21,"x":90.0},{"s":6,"y":0.215,"x":93.2},{"s":6,"y":0.22,"x":91.1},{"s":6,"y":0.225,"x":94.6},{"s":6,"y":0.23,"x":92.8},{"s":6,"y":0.235,"x":96.3},{"s":6,"y":0.24,"x":101.2},{"s":6,"y":0.245,"x":104.0},{"s":6,"y":0.25,"x":102.3},{"s":6,"y":0.255,"x":104.8},{"s":6,"y":0.26,"x":103.1},{"s":6,"y":0.265,"x":105.5},{"s":6,"y":0.27,"x":113.2},{"s":6,"y":0.275,"x":117.0},{"s":6,"y":0.28,"x":120.4},{"s":6,"y":0.285,"x":124.8},{"s":6,"y":0.29,"x":127.5},{"s":6,"y":0.295,"x":134.0},
{"s":7,"y":0,"x":0},{"s":7,"y":0.01,"x":137.5},{"s":7,"y":0.015,"x":133.0},{"s":7,"y":0.02,"x":127.8},{"s":7,"y":0.025,"x":130.6},{"s":7,"y":0.03,"x":125.2},{"s":7,"y":0.035,"x":128.4},{"s":7,"y":0.04,"x":121.0},{"s":7,"y":0.045,"x":124.5},{"s":7,"y":0.05,"x":120.2},{"s":7,"y":0.055,"x":123.4},{"s":7,"y":0.06,"x":119.1},{"s":7,"y":0.065,"x":121.8},{"s":7,"y":0.07,"x":117.6},{"s":7,"y":0.075,"x":120.4},{"s":7,"y":0.08,"x":118.2},{"s":7,"y":0.085,"x":116.5},{"s":7,"y":0.09,"x":119.5},{"s":7,"y":0.095,"x":117.0},{"s":7,"y":0.1,"x":113.8},{"s":7,"y":0.105,"x":116.2},{"s":7,"y":0.11,"x":112.0},{"s":7,"y":0.115,"x":114.9},{"s":7,"y":0.12,"x":118.0},{"s":7,"y":0.125,"x":116.6},{"s":7,"y":0.13,"x":119.8},{"s":7,"y":0.135,"x":121.5},{"s":7,"y":0.14,"x":120.0},{"s":7,"y":0.145,"x":122.6},{"s":7,"y":0.15,"x":124.9},{"s":7,"y":0.155,"x":121.3},{"s":7,"y":0.16,"x":125.8},{"s":7,"y":0.165,"x":123.7},{"s":7,"y":0.17,"x":127.4},{"s":7,"y":0.175,"x":125.0},{"s":7,"y":0.18,"x":133.2},{"s":7,"y":0.185,"x":137.0},{"s":7,"y":0.19,"x":140.5},{"s":7,"y":0.195,"x":145.6},{"s":7,"y":0.2,"x":143.2},{"s":7,"y":0.205,"x":154.0},{"s":7,"y":0.21,"x":150.8}
],
"c": [
{"s":0,"y":0,"x":0},{"s":0,"y":0.005,"x":7.5},{"s":0,"y":0.01,"x":1.5},{"s":0,"y":0.015,"x":1.4},{"s":0,"y":0.02,"x":1.5},{"s":0,"y":0.025,"x":1.3},{"s":0,"y":0.03,"x":1.4},{"s":0,"y":0.035,"x":1.5},{"s":0,"y":0.04,"x":1.4},{"s":0,"y":0.045,"x":1.3},{"s":0,"y":0.05,"x":1.5},{"s":0,"y":0.055,"x":1.4},{"s":0,"y":0.06,"x":1.3},{"s":0,"y":0.065,"x":1.4},{"s":0,"y":0.07,"x":1.5},{"s":0,"y":0.075,"x":1.4},{"s":0,"y":0.08,"x":1.3},{"s":0,"y":0.085,"x":1.4},{"s":0,"y":0.09,"x":1.5},{"s":0,"y":0.095,"x":1.3},{"s":0,"y":0.1,"x":1.4},{"s":0,"y":0.105,"x":1.5},{"s":0,"y":0.11,"x":1.4},{"s":0,"y":0.115,"x":1.3},{"s":0,"y":0.12,"x":1.4},{"s":0,"y":0.125,"x":1.5},{"s":0,"y":0.13,"x":1.4},{"s":0,"y":0.135,"x":1.3},{"s":0,"y":0.14,"x":1.5},{"s":0,"y":0.145,"x":1.4},{"s":0,"y":0.15,"x":1.3},{"s":0,"y":0.155,"x":1.4},{"s":0,"y":0.16,"x":1.5},{"s":0,"y":0.165,"x":1.4},{"s":0,"y":0.17,"x":1.3},{"s":0,"y":0.175,"x":1.4},{"s":0,"y":0.18,"x":1.5},{"s":0,"y":0.185,"x":1.4},{"s":0,"y":0.19,"x":1.3},{"s":0,"y":0.195,"x":1.5},{"s":0,"y":0.2,"x":1.4},{"s":0,"y":0.205,"x":1.4},{"s":0,"y":0.21,"x":1.3},{"s":0,"y":0.215,"x":1.4},{"s":0,"y":0.22,"x":1.5},{"s":0,"y":0.225,"x":1.4},{"s":0,"y":0.23,"x":1.3},{"s":0,"y":0.235,"x":1.4},{"s":0,"y":0.24,"x":1.5},{"s":0,"y":0.245,"x":1.4},{"s":0,"y":0.25,"x":1.3},{"s":0,"y":0.255,"x":1.4},{"s":0,"y":0.26,"x":1.5},{"s":0,"y":0.265,"x":1.4},{"s":0,"y":0.27,"x":1.3},{"s":0,"y":0.275,"x":1.4},{"s":0,"y":0.28,"x":1.5},{"s":0,"y":0.285,"x":1.4},{"s":0,"y":0.29,"x":1.4},{"s":0,"y":0.295,"x":1.3},{"s":0,"y":0.3,"x":1.4},
{"s":1,"y":0,"x":0},{"s":1,"y":0.005,"x":4.5},{"s":1,"y":0.01,"x":4.3},{"s":1,"y":0.015,"x":4.1},{"s":1,"y":0.02,"x":4.2},{"s":1,"y":0.025,"x":4.0},{"s":1,"y":0.03,"x":4.3},{"s":1,"y":0.035,"x":4.1},{"s":1,"y":0.04,"x":4.2},{"s":1,"y":0.045,"x":4.0},{"s":1,"y":0.05,"x":4.1},{"s":1,"y":0.055,"x":4.3},{"s":1,"y":0.06,"x":4.2},{"s":1,"y":0.065,"x":4.0},{"s":1,"y":0.07,"x":4.1},{"s":1,"y":0.075,"x":4.3},{"s":1,"y":0.08,"x":4.2},{"s":1,"y":0.085,"x":4.1},{"s":1,"y":0.09,"x":4.0},{"s":1,"y":0.095,"x":4.2},{"s":1,"y":0.1,"x":4.3},{"s":1,"y":0.105,"x":4.1},{"s":1,"y":0.11,"x":4.2},{"s":1,"y":0.115,"x":4.0},{"s":1,"y":0.12,"x":4.1},{"s":1,"y":0.125,"x":4.2},{"s":1,"y":0.13,"x":4.3},{"s":1,"y":0.135,"x":4.1},{"s":1,"y":0.14,"x":4.0},{"s":1,"y":0.145,"x":4.2},{"s":1,"y":0.15,"x":4.1},{"s":1,"y":0.155,"x":4.3},{"s":1,"y":0.16,"x":4.2},{"s":1,"y":0.165,"x":4.1},{"s":1,"y":0.17,"x":4.0},{"s":1,"y":0.175,"x":4.2},{"s":1,"y":0.18,"x":4.1},{"s":1,"y":0.185,"x":4.3},{"s":1,"y":0.19,"x":4.2},{"s":1,"y":0.195,"x":4.0},{"s":1,"y":0.2,"x":4.1},{"s":1,"y":0.205,"x":4.2},{"s":1,"y":0.21,"x":4.3},{"s":1,"y":0.215,"x":4.1},{"s":1,"y":0.22,"x":4.2},{"s":1,"y":0.225,"x":4.0},{"s":1,"y":0.23,"x":4.1},{"s":1,"y":0.235,"x":4.2},{"s":1,"y":0.24,"x":4.3},{"s":1,"y":0.245,"x":4.1},{"s":1,"y":0.25,"x":4.2},{"s":1,"y":0.255,"x":4.0},{"s":1,"y":0.26,"x":4.1},{"s":1,"y":0.265,"x":4.2},{"s":1,"y":0.27,"x":4.3},{"s":1,"y":0.275,"x":4.1},{"s":1,"y":0.28,"x":4.2},{"s":1,"y":0.285,"x":4.0},{"s":1,"y":0.29,"x":4.1},{"s":1,"y":0.295,"x":4.2},{"s":1,"y":0.3,"x":4.1},
{"s":2,"y":0,"x":0},{"s":2,"y":0.005,"x":14.0},{"s":2,"y":0.01,"x":14.5},{"s":2,"y":0.015,"x":13.8},{"s":2,"y":0.02,"x":13.0},{"s":2,"y":0.025,"x":12.6},{"s":2,"y":0.03,"x":13.2},{"s":2,"y":0.035,"x":12.1},{"s":2,"y":0.04,"x":12.8},{"s":2,"y":0.045,"x":11.9},{"s":2,"y":0.05,"x":12.4},{"s":2,"y":0.055,"x":11.6},{"s":2,"y":0.06,"x":11.9},{"s":2,"y":0.065,"x":11.2},{"s":2,"y":0.07,"x":11.8},{"s":2,"y":0.075,"x":10.9},{"s":2,"y":0.08,"x":11.5},{"s":2,"y":0.085,"x":11.0},{"s":2,"y":0.09,"x":11.7},{"s":2,"y":0.095,"x":10.8},{"s":2,"y":0.1,"x":11.4},{"s":2,"y":0.105,"x":10.6},{"s":2,"y":0.11,"x":11.3},{"s":2,"y":0.115,"x":10.9},{"s":2,"y":0.12,"x":11.6},{"s":2,"y":0.125,"x":10.7},{"s":2,"y":0.13,"x":11.2},{"s":2,"y":0.135,"x":10.5},{"s":2,"y":0.14,"x":11.1},{"s":2,"y":0.145,"x":10.8},{"s":2,"y":0.15,"x":11.4},{"s":2,"y":0.155,"x":10.6},{"s":2,"y":0.16,"x":11.0},{"s":2,"y":0.165,"x":10.7},{"s":2,"y":0.17,"x":11.3},{"s":2,"y":0.175,"x":10.5},{"s":2,"y":0.18,"x":11.1},{"s":2,"y":0.185,"x":10.9},{"s":2,"y":0.19,"x":11.5},{"s":2,"y":0.195,"x":10.6},{"s":2,"y":0.2,"x":11.2},{"s":2,"y":0.205,"x":10.8},{"s":2,"y":0.21,"x":11.4},{"s":2,"y":0.215,"x":10.7},{"s":2,"y":0.22,"x":11.1},{"s":2,"y":0.225,"x":10.9},{"s":2,"y":0.23,"x":11.3},{"s":2,"y":0.235,"x":10.6},{"s":2,"y":0.24,"x":11.0},{"s":2,"y":0.245,"x":10.8},{"s":2,"y":0.25,"x":11.2},{"s":2,"y":0.255,"x":10.7},{"s":2,"y":0.26,"x":11.3},{"s":2,"y":0.265,"x":10.9},{"s":2,"y":0.27,"x":11.1},{"s":2,"y":0.275,"x":10.6},{"s":2,"y":0.28,"x":11.2},{"s":2,"y":0.285,"x":10.8},{"s":2,"y":0.29,"x":11.0},{"s":2,"y":0.295,"x":10.9},{"s":2,"y":0.3,"x":11.1},
{"s":3,"y":0,"x":0},{"s":3,"y":0.005,"x":19.0},{"s":3,"y":0.01,"x":21.5},{"s":3,"y":0.015,"x":20.4},{"s":3,"y":0.02,"x":19.6},{"s":3,"y":0.025,"x":19.0},{"s":3,"y":0.03,"x":18.6},{"s":3,"y":0.035,"x":18.9},{"s":3,"y":0.04,"x":18.2},{"s":3,"y":0.045,"x":18.5},{"s":3,"y":0.05,"x":17.9},{"s":3,"y":0.055,"x":18.3},{"s":3,"y":0.06,"x":17.6},{"s":3,"y":0.065,"x":18.1},{"s":3,"y":0.07,"x":17.4},{"s":3,"y":0.075,"x":17.9},{"s":3,"y":0.08,"x":17.2},{"s":3,"y":0.085,"x":17.8},{"s":3,"y":0.09,"x":17.5},{"s":3,"y":0.095,"x":17.1},{"s":3,"y":0.1,"x":17.7},{"s":3,"y":0.105,"x":17.3},{"s":3,"y":0.11,"x":17.0},{"s":3,"y":0.115,"x":17.6},{"s":3,"y":0.12,"x":17.2},{"s":3,"y":0.125,"x":16.9},{"s":3,"y":0.13,"x":17.5},{"s":3,"y":0.135,"x":17.1},{"s":3,"y":0.14,"x":17.8},{"s":3,"y":0.145,"x":17.3},{"s":3,"y":0.15,"x":17.6},{"s":3,"y":0.155,"x":17.0},{"s":3,"y":0.16,"x":17.7},{"s":3,"y":0.165,"x":17.4},{"s":3,"y":0.17,"x":18.0},{"s":3,"y":0.175,"x":17.6},{"s":3,"y":0.18,"x":18.2},{"s":3,"y":0.185,"x":17.9},{"s":3,"y":0.19,"x":18.5},{"s":3,"y":0.195,"x":18.1},{"s":3,"y":0.2,"x":18.8},{"s":3,"y":0.205,"x":18.4},{"s":3,"y":0.21,"x":19.1},{"s":3,"y":0.215,"x":19.5},{"s":3,"y":0.22,"x":19.2},{"s":3,"y":0.225,"x":19.9},{"s":3,"y":0.23,"x":19.6},{"s":3,"y":0.235,"x":20.3},{"s":3,"y":0.24,"x":20.8},{"s":3,"y":0.245,"x":20.5},{"s":3,"y":0.25,"x":21.2},{"s":3,"y":0.255,"x":21.6},{"s":3,"y":0.26,"x":22.1},{"s":3,"y":0.265,"x":22.6},{"s":3,"y":0.27,"x":23.2},{"s":3,"y":0.275,"x":23.8},{"s":3,"y":0.28,"x":24.5},{"s":3,"y":0.285,"x":25.1},{"s":3,"y":0.29,"x":25.9},{"s":3,"y":0.295,"x":26.6},{"s":3,"y":0.3,"x":27.4},
{"s":4,"y":0,"x":0},{"s":4,"y":0.005,"x":20.7},{"s":4,"y":0.01,"x":47.5},{"s":4,"y":0.015,"x":48.5},{"s":4,"y":0.02,"x":47.0},{"s":4,"y":0.025,"x":49.2},{"s":4,"y":0.03,"x":48.0},{"s":4,"y":0.035,"x":50.1},{"s":4,"y":0.04,"x":47.8},{"s":4,"y":0.045,"x":45.2},{"s":4,"y":0.05,"x":43.8},{"s":4,"y":0.055,"x":42.5},{"s":4,"y":0.06,"x":41.0},{"s":4,"y":0.065,"x":39.6},{"s":4,"y":0.07,"x":40.8},{"s":4,"y":0.075,"x":39.9},{"s":4,"y":0.08,"x":41.6},{"s":4,"y":0.085,"x":40.7},{"s":4,"y":0.09,"x":42.4},{"s":4,"y":0.095,"x":41.5},{"s":4,"y":0.1,"x":43.2},{"s":4,"y":0.105,"x":44.6},{"s":4,"y":0.11,"x":46.5},{"s":4,"y":0.116,"x":49.8},{"s":4,"y":0.121,"x":52.3},{"s":4,"y":0.127,"x":56.0},{"s":4,"y":0.133,"x":60.5},{"s":4,"y":0.137,"x":64.4},{"s":4,"y":0.143,"x":70.8},{"s":4,"y":0.149,"x":77.0},{"s":4,"y":0.155,"x":86.7},{"s":4,"y":0.161,"x":105.0},{"s":4,"y":0.166,"x":117.5},{"s":4,"y":0.172,"x":134.5},{"s":4,"y":0.177,"x":155.0},
{"s":5,"y":0,"x":0},{"s":5,"y":0.005,"x":14.5},{"s":5,"y":0.01,"x":49.5},{"s":5,"y":0.015,"x":52.0},{"s":5,"y":0.02,"x":50.5},{"s":5,"y":0.025,"x":53.5},{"s":5,"y":0.03,"x":51.0},{"s":5,"y":0.035,"x":54.5},{"s":5,"y":0.04,"x":52.2},{"s":5,"y":0.045,"x":55.0},{"s":5,"y":0.05,"x":53.0},{"s":5,"y":0.054,"x":57.8},{"s":5,"y":0.058,"x":55.9},{"s":5,"y":0.062,"x":61.6},{"s":5,"y":0.068,"x":66.2},{"s":5,"y":0.074,"x":77.7},{"s":5,"y":0.08,"x":87.0},{"s":5,"y":0.086,"x":107.6},{"s":5,"y":0.0915,"x":126.0},{"s":5,"y":0.0965,"x":154.7},
{"s":6,"y":0,"x":0},{"s":6,"y":0.005,"x":8.5},{"s":6,"y":0.009,"x":11.0},{"s":6,"y":0.014,"x":13.5},{"s":6,"y":0.019,"x":15.6},{"s":6,"y":0.023,"x":18.5},{"s":6,"y":0.027,"x":21.4},{"s":6,"y":0.031,"x":25.0},{"s":6,"y":0.036,"x":29.4},{"s":6,"y":0.041,"x":35.0},{"s":6,"y":0.046,"x":43.2},{"s":6,"y":0.052,"x":50.0},{"s":6,"y":0.058,"x":57.0},{"s":6,"y":0.063,"x":73.0},{"s":6,"y":0.069,"x":88.0},{"s":6,"y":0.0745,"x":111.0},{"s":6,"y":0.08,"x":123.7},
{"s":7,"y":0,"x":0},{"s":7,"y":0.004,"x":1.5},{"s":7,"y":0.008,"x":2.5},{"s":7,"y":0.012,"x":3.6},{"s":7,"y":0.0175,"x":5.3},{"s":7,"y":0.022,"x":7.0},{"s":7,"y":0.027,"x":8.7},{"s":7,"y":0.033,"x":12.0},{"s":7,"y":0.0387,"x":16.5},{"s":7,"y":0.0449,"x":24.6},{"s":7,"y":0.0505,"x":36.0},{"s":7,"y":0.0567,"x":47.6},{"s":7,"y":0.062,"x":73.0},{"s":7,"y":0.068,"x":94.0},{"s":7,"y":0.074,"x":149.0}
]
},
"hconcat": [
{
  "data": {"name": "a"},
  "width": 231, "height": 213,
  "title": {"text": "(a)\u00a0\u00a040\u00a0\u00a0μm玻璃颗粒单频反演曲线", "orient": "bottom", "anchor": "middle", "frame": "group", "offset": 15, "dx": 10},
  "mark": {"type": "point", "filled": true, "size": 81, "opacity": 1, "strokeWidth": 0},
  "encoding": {
    "x": {"field": "x", "type": "quantitative", "scale": {"domain": [0, 160], "nice": false}, "axis": {"orient": "top", "title": "质量浓度/(g·L⁻¹)", "values": [0,10,20,30,40,50,60,70,80,90,100,110,120,130,140,150,160], "labelExpr": "datum.value % 40 == 0 ? datum.label : ''", "labelPadding": 8, "titlePadding": 5}},
    "y": {"field": "y", "type": "quantitative", "scale": {"domain": [0, 0.3], "reverse": true, "nice": false}, "axis": {"title": "距离传感器的高度/m", "values": [0,0.025,0.05,0.075,0.1,0.125,0.15,0.175,0.2,0.225,0.25,0.275,0.3], "labelExpr": "round(datum.value*1000) % 50 == 0 ? (datum.value == 0 ? '0' : format(datum.value, '.2f')) : ''", "labelPadding": 7, "titlePadding": 6}},
    "color": {"field": "s", "type": "nominal", "scale": {"domain": [0,1,2,3,4,5,6,7], "range": ["#000000","#E69F00","#56B4E9","#009E73","#E8D84A","#0072B2","#D55E00","#CC79A7"]}, "legend": {"title": null, "orient": "none", "legendX": -10, "legendY": 227, "symbolStrokeWidth": 0, "labelExpr": "['2.0 g/L','3.8 g/L','9.9 g/L','21.2 g/L','43.1 g/L','70.1 g/L','89.2 g/L','128.4 g/L'][datum.value]"}},
    "shape": {"field": "s", "type": "nominal", "scale": {"domain": [0,1,2,3,4,5,6,7], "range": ["M-0.9,-0.9L0.9,-0.9L0.9,0.9L-0.9,0.9Z","circle","M0,-1L1,0.8L-1,0.8Z","M-1,-0.8L1,-0.8L0,1Z","M0,-1.25L1,0L0,1.25L-1,0Z","M-1,0L0.8,-1L0.8,1Z","M1,0L-0.8,1L-0.8,-1Z","M0,-1.05L1,-0.32L0.62,0.85L-0.62,0.85L-1,-0.32Z"]}, "legend": {"title": null, "orient": "none", "legendX": -10, "legendY": 227, "symbolStrokeWidth": 0, "labelExpr": "['2.0 g/L','3.8 g/L','9.9 g/L','21.2 g/L','43.1 g/L','70.1 g/L','89.2 g/L','128.4 g/L'][datum.value]"}}
  }
},
{
  "data": {"name": "b"},
  "width": 231, "height": 213,
  "title": {"text": "(b)\u00a0\u00a078\u00a0\u00a0μm玻璃颗粒单频反演曲线", "orient": "bottom", "anchor": "middle", "frame": "group", "offset": 15, "dx": 22},
  "mark": {"type": "point", "filled": false, "size": 72, "opacity": 1, "strokeWidth": 1.5},
  "encoding": {
    "x": {"field": "x", "type": "quantitative", "scale": {"domain": [0, 160], "nice": false}, "axis": {"orient": "top", "title": "质量浓度/(g·L⁻¹)", "values": [0,10,20,30,40,50,60,70,80,90,100,110,120,130,140,150,160], "labelExpr": "datum.value % 40 == 0 ? datum.label : ''", "labelPadding": 8, "titlePadding": 5}},
    "y": {"field": "y", "type": "quantitative", "scale": {"domain": [0, 0.3], "reverse": true, "nice": false}, "axis": {"title": "距离传感器的高度/m", "values": [0,0.025,0.05,0.075,0.1,0.125,0.15,0.175,0.2,0.225,0.25,0.275,0.3], "labelExpr": "round(datum.value*1000) % 50 == 0 ? (datum.value == 0 ? '0' : format(datum.value, '.2f')) : ''", "labelPadding": 7, "titlePadding": 6}},
    "color": {"field": "s", "type": "nominal", "scale": {"domain": [0,1,2,3,4,5,6,7], "range": ["#000000","#E69F00","#56B4E9","#009E73","#E8D84A","#0072B2","#D55E00","#CC79A7"]}, "legend": {"title": null, "orient": "none", "legendX": -10, "legendY": 227, "rowPadding": 2, "symbolStrokeWidth": 1.5, "labelExpr": "['2.0 g/L','3.8 g/L','9.9 g/L','19.2 g/L','43.0 g/L','70.1 g/L','88.6 g/L','127.1 g/L'][datum.value]"}},
    "shape": {"field": "s", "type": "nominal", "scale": {"domain": [0,1,2,3,4,5,6,7], "range": ["M-0.9,-0.9L0.9,-0.9L0.9,0.9L-0.9,0.9Z","circle","M0,-1L1,0.8L-1,0.8Z","M-1,-0.8L1,-0.8L0,1Z","M0,-1.25L1,0L0,1.25L-1,0Z","M-1,0L0.8,-1L0.8,1Z","M1,0L-0.8,1L-0.8,-1Z","M0,-1.05L1,-0.32L0.62,0.85L-0.62,0.85L-1,-0.32Z"]}, "legend": {"title": null, "orient": "none", "legendX": -10, "legendY": 227, "rowPadding": 2, "symbolStrokeWidth": 1.5, "labelExpr": "['2.0 g/L','3.8 g/L','9.9 g/L','19.2 g/L','43.0 g/L','70.1 g/L','88.6 g/L','127.1 g/L'][datum.value]"}}
  }
},
{
  "data": {"name": "c"},
  "width": 231, "height": 213,
  "title": {"text": "(c)\u00a0\u00a0212\u00a0\u00a0μm玻璃颗粒单频反演曲线", "orient": "bottom", "anchor": "middle", "frame": "group", "offset": 15, "dx": 19},
  "mark": {"type": "point", "filled": true, "size": 81, "opacity": 1, "strokeWidth": 0},
  "encoding": {
    "x": {"field": "x", "type": "quantitative", "scale": {"domain": [0, 160], "nice": false}, "axis": {"orient": "top", "title": "质量浓度/(g·L⁻¹)", "values": [0,10,20,30,40,50,60,70,80,90,100,110,120,130,140,150,160], "labelExpr": "datum.value % 40 == 0 ? datum.label : ''", "labelPadding": 8, "titlePadding": 5}},
    "y": {"field": "y", "type": "quantitative", "scale": {"domain": [0, 0.3], "reverse": true, "nice": false}, "axis": {"title": "距离传感器的高度/m", "values": [0,0.025,0.05,0.075,0.1,0.125,0.15,0.175,0.2,0.225,0.25,0.275,0.3], "labelExpr": "round(datum.value*1000) % 50 == 0 ? (datum.value == 0 ? '0' : format(datum.value, '.2f')) : ''", "labelPadding": 7, "titlePadding": 6}},
    "color": {"field": "s", "type": "nominal", "scale": {"domain": [0,1,2,3,4,5,6,7], "range": ["#000000","#E69F00","#56B4E9","#009E73","#E8D84A","#0072B2","#D55E00","#CC79A7"]}, "legend": {"title": null, "orient": "none", "legendX": -10, "legendY": 227, "symbolStrokeWidth": 0, "labelExpr": "['1.9 g/L','3.5 g/L','11.1 g/L','17.9 g/L','39.4 g/L','69.7 g/L','89.2 g/L','125.9 g/L'][datum.value]"}},
    "shape": {"field": "s", "type": "nominal", "scale": {"domain": [0,1,2,3,4,5,6,7], "range": [
      "M-1,-1L1,-1L1,1L-1,1ZM-0.7,-0.7L-0.7,0.7L0.7,0.7L0.7,-0.7ZM-1,-1L0,-1L0,1L-1,1Z",
      "M-1,0A1,1,0,1,1,1,0A1,1,0,1,1,-1,0ZM-0.7,0A0.7,0.7,0,1,0,0.7,0A0.7,0.7,0,1,0,-0.7,0ZM0,1A1,1,0,0,1,0,-1Z",
      "M0,-1L1,0.8L-1,0.8ZM0,-0.38L-0.49,0.5L0.49,0.5ZM0,-1L0,0.8L-1,0.8Z",
      "M-1,-0.8L1,-0.8L0,1ZM-0.49,-0.5L0,0.38L0.49,-0.5ZM-1,-0.8L0,-0.8L0,1Z",
      "M0,-1.25L1,0L0,1.25L-1,0ZM0,-0.77L-0.62,0L0,0.77L0.62,0ZM0,-1.25L0,1.25L-1,0Z",
      "M-1,0L0.8,-1L0.8,1ZM-0.6,0L0.28,0.49L0.28,-0.49ZM-1,0L0,-0.56L0,0.56Z",
      "M1,0L-0.8,1L-0.8,-1ZM0.6,0L-0.28,-0.49L-0.28,0.49ZM-0.8,-1L0,-0.56L0,0.56L-0.8,1Z",
      "M-1,0A1,1,0,1,1,1,0A1,1,0,1,1,-1,0ZM-0.7,0A0.7,0.7,0,1,0,0.7,0A0.7,0.7,0,1,0,-0.7,0ZM0,1A1,1,0,0,1,0,-1Z"]}, "legend": {"title": null, "orient": "none", "legendX": -10, "legendY": 227, "symbolStrokeWidth": 0, "labelExpr": "['1.9 g/L','3.5 g/L','11.1 g/L','17.9 g/L','39.4 g/L','69.7 g/L','89.2 g/L','125.9 g/L'][datum.value]"}}
  }
}
],
"resolve": {"scale": {"color": "independent", "shape": "independent"}, "legend": {"color": "independent", "shape": "independent"}}
}
